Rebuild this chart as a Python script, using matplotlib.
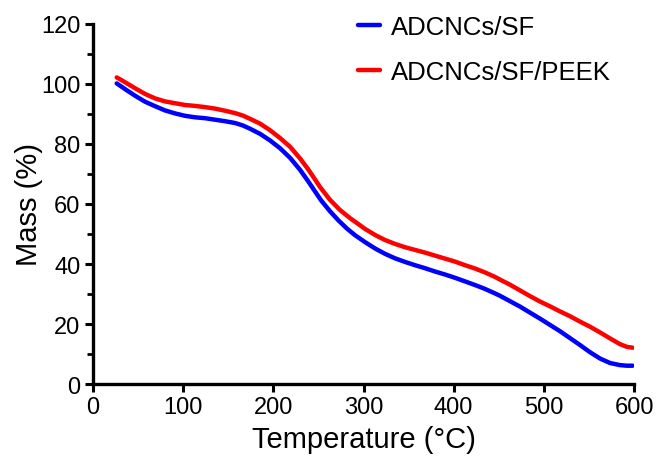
import matplotlib
matplotlib.use("Agg")
import matplotlib.pyplot as plt
from matplotlib.ticker import MultipleLocator

plt.rcParams['font.family'] = ['Liberation Sans', 'DejaVu Sans']

# ADCNCs/SF (blue)
t_blue = [26.3, 35.5, 46.6, 57.7, 68.8, 79.8, 90.9, 102.0, 113.1, 124.2, 135.3,
          146.4, 157.5, 166.0, 174.1, 185.2, 196.3, 207.4, 218.5, 229.6, 238.8,
          244.4, 253.0, 262.8, 272.0, 281.3, 290.6, 301.7, 312.7, 323.8, 334.9,
          346.0, 357.1, 368.2, 379.3, 390.4, 401.5, 412.6, 423.6, 434.7, 445.8,
          451.4, 462.5, 473.6, 484.6, 495.7, 506.8, 517.9, 529.0, 540.1, 551.2,
          562.3, 573.4, 584.4, 591.9, 598.5]
m_blue = [100.2, 98.3, 96.1, 94.1, 92.6, 91.2, 90.2, 89.4, 88.9, 88.6, 88.1,
          87.6, 87.0, 86.2, 85.1, 83.4, 81.2, 78.6, 75.4, 71.4, 67.5,
          65.0, 61.2, 57.6, 54.6, 51.9, 49.6, 47.3, 45.2, 43.4, 41.9,
          40.7, 39.6, 38.6, 37.5, 36.5, 35.4, 34.2, 33.0, 31.7, 30.2,
          29.4, 27.6, 25.8, 23.8, 21.8, 19.7, 17.6, 15.3, 13.0, 10.6,
          8.5, 7.0, 6.3, 6.1, 6.1]
# ADCNCs/SF/PEEK (red)
t_red = [26.3, 35.5, 46.6, 57.7, 68.8, 79.8, 90.9, 102.0, 113.1, 124.2, 135.3,
         146.4, 157.5, 166.0, 174.1, 185.2, 196.3, 207.4, 218.5, 229.6, 238.8,
         244.4, 251.7, 262.8, 273.9, 285.0, 292.0, 301.7, 312.7, 323.8, 334.9,
         346.0, 357.1, 368.2, 379.3, 390.4, 401.5, 412.6, 423.6, 434.7, 445.8,
         451.4, 462.5, 473.6, 484.6, 495.7, 506.8, 517.9, 529.0, 540.1, 551.2,
         562.3, 573.4, 584.4, 591.9, 598.5]
m_red = [102.2, 100.6, 98.6, 96.7, 95.2, 94.2, 93.6, 93.0, 92.7, 92.3, 91.8,
         91.1, 90.3, 89.5, 88.4, 86.8, 84.6, 82.0, 79.1, 75.2, 71.5,
         69.0, 65.7, 61.4, 58.0, 55.3, 53.8, 51.7, 49.7, 48.0, 46.7,
         45.6, 44.7, 43.8, 42.8, 41.8, 40.8, 39.6, 38.5, 37.2, 35.7,
         34.8, 33.1, 31.2, 29.3, 27.5, 25.9, 24.2, 22.6, 20.8, 19.1,
         17.2, 15.2, 13.3, 12.4, 12.1]

labels = ['ADCNCs/SF', 'ADCNCs/SF/PEEK']
x_ticks = [0, 100, 200, 300, 400, 500, 600]
y_ticks = [0, 20, 40, 60, 80, 100, 120]

fig = plt.figure(figsize=(6.56, 4.60), dpi=100)
ax = fig.add_axes([93/656, 1-385/460, (634-93)/656, (385-25)/460])

ax.plot(t_blue, m_blue, color='#0000ff', lw=3.2, label=labels[0],
        solid_capstyle='round', solid_joinstyle='round')
ax.plot(t_red, m_red, color='#ff0000', lw=3.2, label=labels[1],
        solid_capstyle='round', solid_joinstyle='round')

ax.set_xlim(0, 600)
ax.set_ylim(0, 120)
ax.set_xticks(x_ticks)
ax.set_yticks(y_ticks)
ax.yaxis.set_minor_locator(MultipleLocator(10))

for s in ['top', 'right']:
    ax.spines[s].set_visible(False)
for s in ['left', 'bottom']:
    ax.spines[s].set_linewidth(2.4)

ax.tick_params(axis='both', which='major', direction='out', length=6, width=2.2,
               labelsize=17, pad=3)
ax.tick_params(axis='y', which='minor', direction='out', length=4, width=2.0)

ax.set_xlabel('Temperature (°C)', fontsize=21, labelpad=5)
ax.set_ylabel('Mass (%)', fontsize=21, labelpad=-1)

leg = ax.legend(loc='upper left', bbox_to_anchor=(358/656, 1-16/460),
                bbox_transform=fig.transFigure, frameon=False, fontsize=18.5,
                handlelength=0.85, handletextpad=0.45, labelspacing=0.8,
                borderpad=0, borderaxespad=0)
for line in leg.get_lines():
    line.set_linewidth(3.2)

fig.savefig('out.png', dpi=100)
